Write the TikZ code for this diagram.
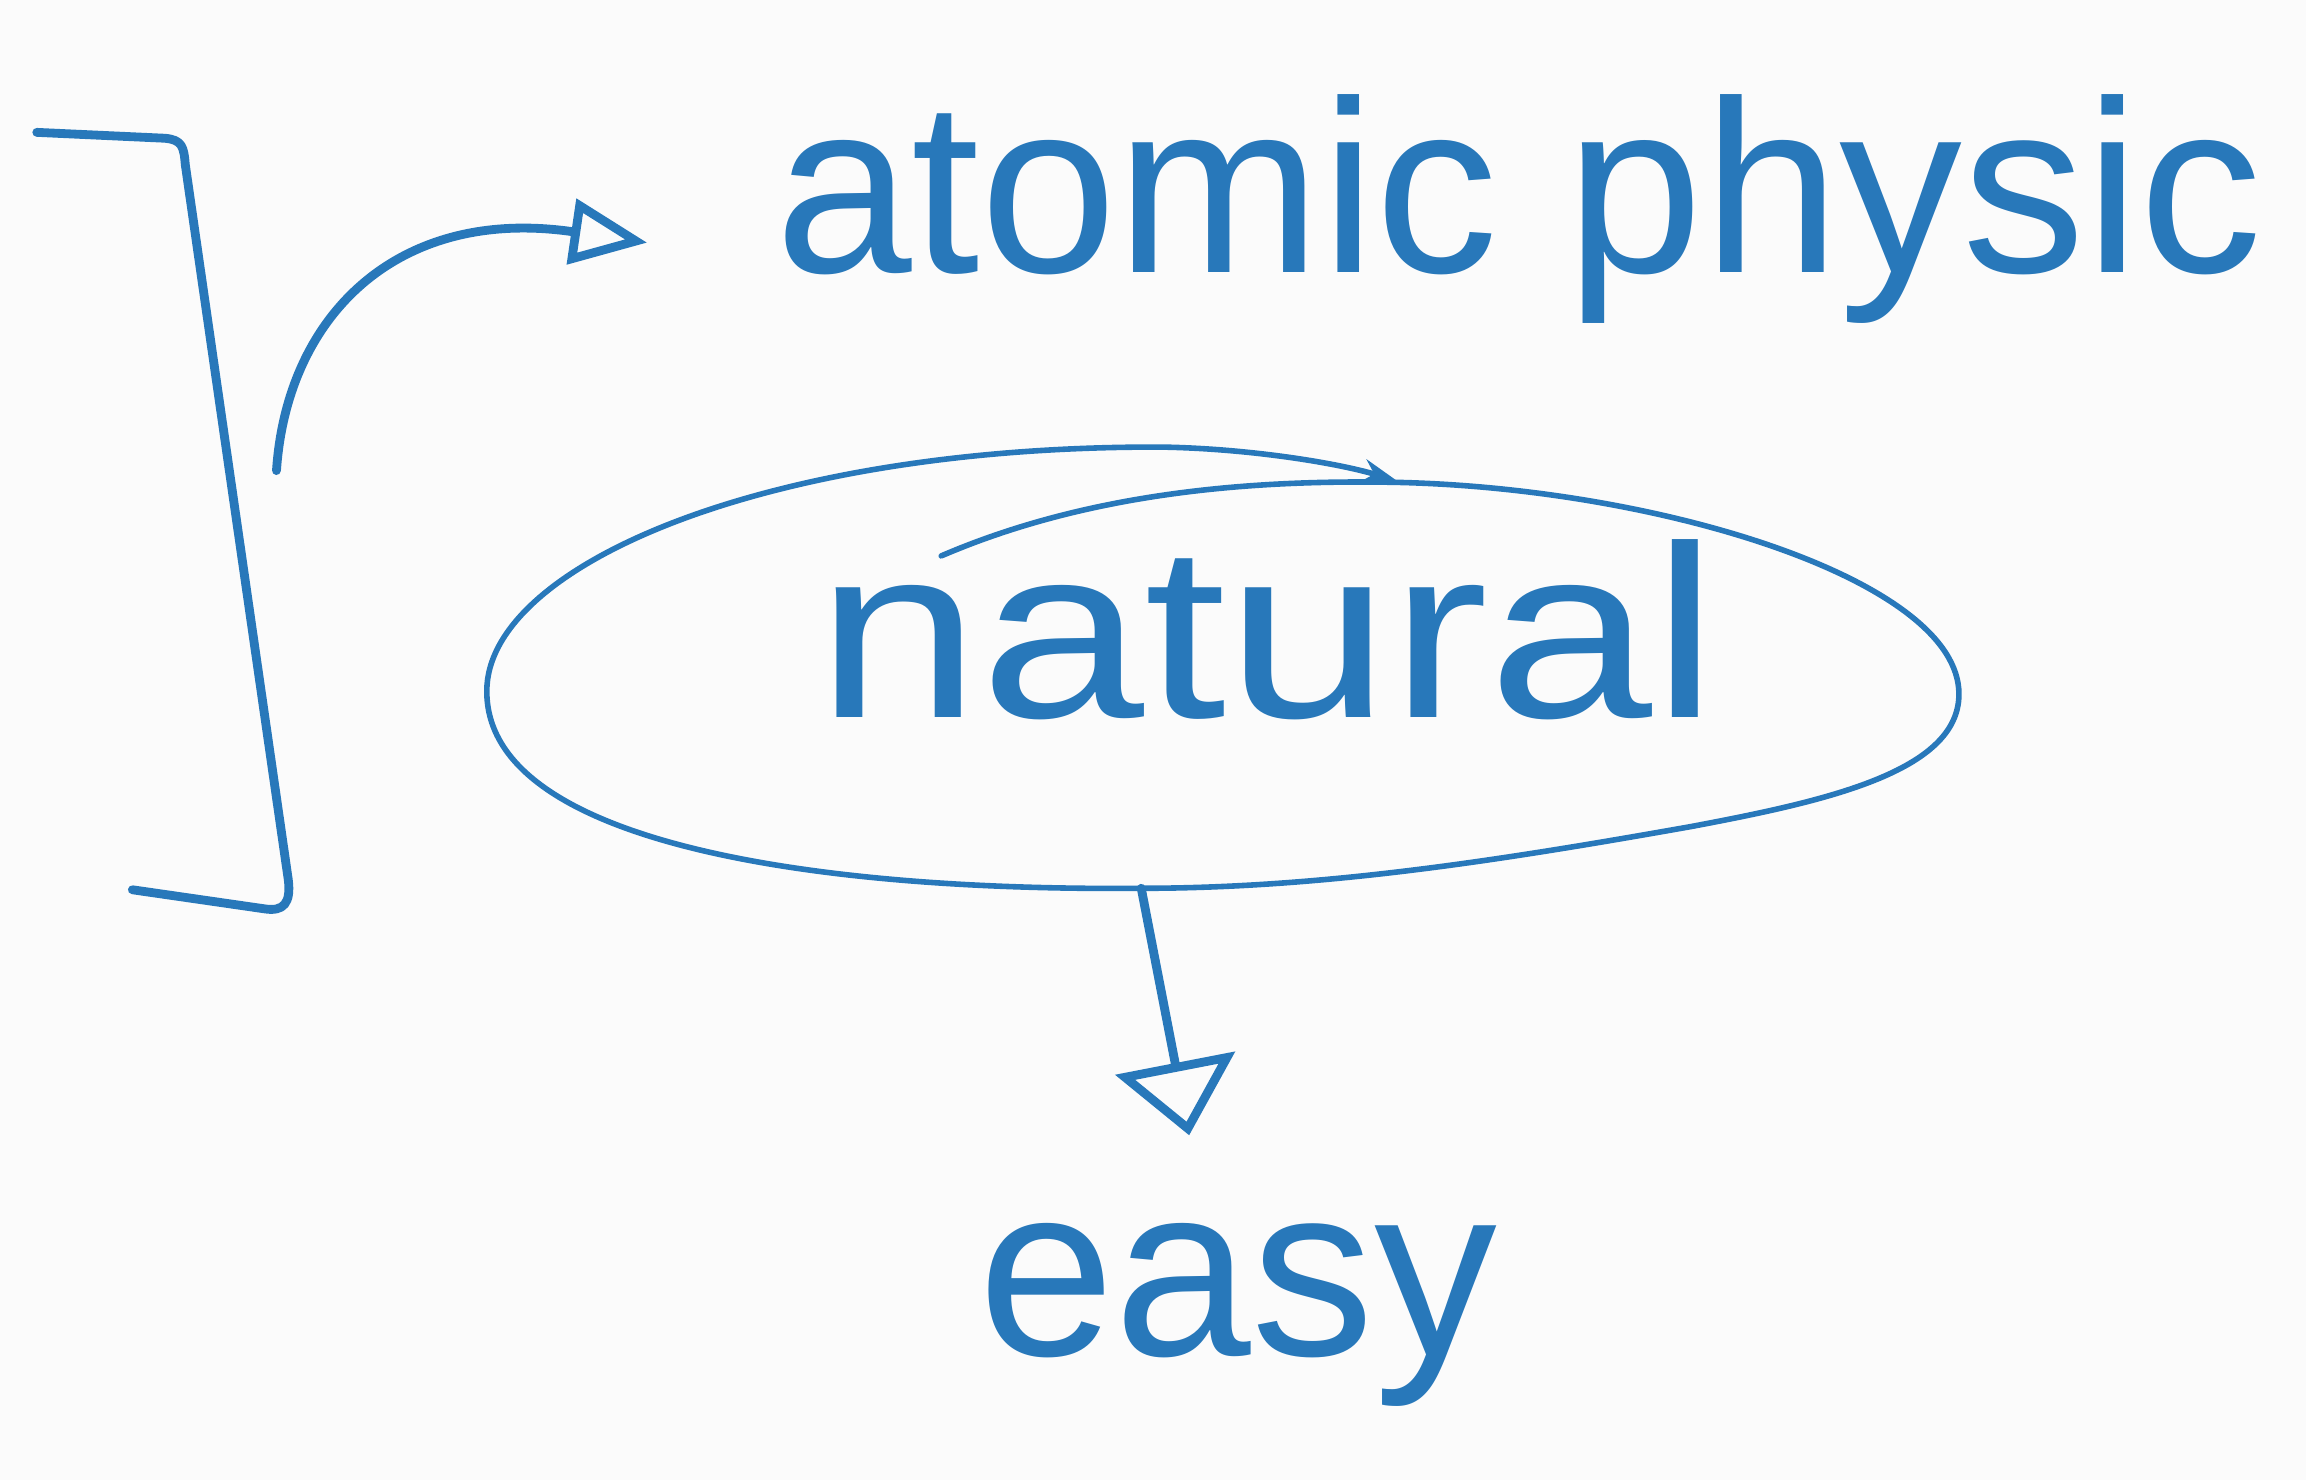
\documentclass[tikz,border=0pt]{standalone}
\usepackage{fontspec}
\setmainfont{Liberation Sans}
\usetikzlibrary{arrows.meta,calc}
\definecolor{ink}{RGB}{40,120,186}
\definecolor{paper}{RGB}{251,251,251}
\begin{document}
\begin{tikzpicture}[x=1pt,y=-1pt,
  inkline/.style={draw=ink, line width=6pt, line cap=round, line join=round},
  thinink/.style={draw=ink, line width=3.8pt, line cap=round, line join=round},
  handtext/.style={text=ink, font=\fontsize{167}{180}\selectfont, anchor=base west, inner sep=0pt},
]
\fill[paper] (0,0) rectangle (1568,1006);
\useasboundingbox (0,0) rectangle (1568,1006);

% texts
\node[handtext] (atomic) at (527,185) {atomic physic};
\node[handtext] (natural) at (555,488) {\scalebox{1.2}[1]{natural}};
\node[handtext] (easy) at (665,922) {easy};

% bracket
\coordinate (brtop) at (25,90);
\coordinate (brbot) at (90,605);
\draw[inkline] (brtop) -- (112,94) .. controls (124,95) and (125,100) .. (126,112)
  -- (196,598) .. controls (198,614) and (193,620) .. (180,618) -- (brbot);

% curved arrow from bracket region to atomic physic
\coordinate (brk) at (188,320);
\draw[inkline, -{Triangle[open,length=52pt,width=44pt,line width=6pt]}]
  (brk) .. controls (195,215) and (270,140) .. ($(atomic.base west)+(-87,-20)$);

% loop around "natural"
\coordinate (loopstart) at (640,378);
\coordinate (ellbot) at (776,604);
\coordinate (loopend) at (950,327);
\draw[thinink, -{Stealth[length=24pt,width=16pt]}]
  (loopstart) .. controls (740,335) and (850,326) .. (950,328)
  .. controls (1130,332) and (1332,395) .. (1332,472)
  .. controls (1332,525) and (1240,545) .. (1150,562)
  .. controls (1020,585) and (900,604) .. (ellbot)
  .. controls (560,606) and (331,575) .. (331,470)
  .. controls (331,385) and (520,303) .. (790,304)
  .. controls (850,305) and (910,315) .. (loopend);

% arrow to easy
\draw[inkline, -{Triangle[open,length=50pt,width=82pt,line width=6pt]}]
  (ellbot) -- ($(easy.north)+(-33,-60)$);
\end{tikzpicture}
\end{document}
